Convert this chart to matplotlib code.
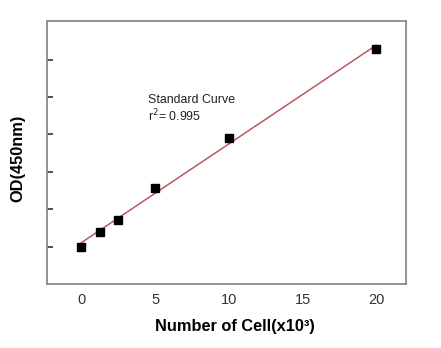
import numpy as np
import matplotlib
matplotlib.use("Agg")
import matplotlib.pyplot as plt

plt.rcParams['font.family'] = ['Liberation Sans', 'DejaVu Sans']

cells = [0, 1.25, 2.5, 5, 10, 20]
od = [0.50, 0.695, 0.861, 1.279, 1.957, 3.138]
x_ticks = [0, 5, 10, 15, 20]
y_ticks = [0.5, 1.0, 1.5, 2.0, 2.5, 3.0]
annot_title = "Standard Curve"
annot_r2 = "0.995"

fig = plt.figure(figsize=(4.41, 3.48), dpi=100)
ax = fig.add_axes([0.106, 0.184, 0.815, 0.7565])

slope, intercept = np.polyfit(cells, od, 1)
xf = np.array([min(cells), max(cells)])
ax.plot(xf, slope * xf + intercept, color='#c05560', lw=1.1, zorder=2)
ax.plot(cells, od, 's', color='black', markersize=5.2, zorder=3)

ax.set_xlim(-2.35, 22.03)
ax.set_ylim(0, 3.52)
ax.set_xticks(x_ticks)
ax.set_xticklabels([str(t) for t in x_ticks], fontsize=10.5, color='#333333')
ax.tick_params(axis='x', length=0, pad=6.5)
ax.set_yticks(y_ticks)
ax.set_yticklabels([])
ax.tick_params(axis='y', direction='in', length=4, width=1.1, pad=2, color='#222222')
for s in ax.spines.values():
    s.set_color('#8a8a8a')
    s.set_linewidth(1.3)

ax.text(148 / 441, 1 - 100 / 348, annot_title, transform=fig.transFigure,
        fontsize=8.9, color='#222222', va='center', ha='left')
ax.text(148 / 441, 1 - 116 / 348, r"r$^{2}$= " + annot_r2, transform=fig.transFigure,
        fontsize=8.9, color='#222222', va='center', ha='left')

fig.text(235 / 441, 1 - 327 / 348, "Number of Cell(x10³)", fontsize=11.8,
         fontweight='bold', ha='center', va='center')
fig.text(18 / 441, 1 - 158 / 348, "OD(450nm)", fontsize=11.8, fontweight='bold',
         rotation=90, ha='center', va='center')

fig.savefig("out.png", dpi=100)
